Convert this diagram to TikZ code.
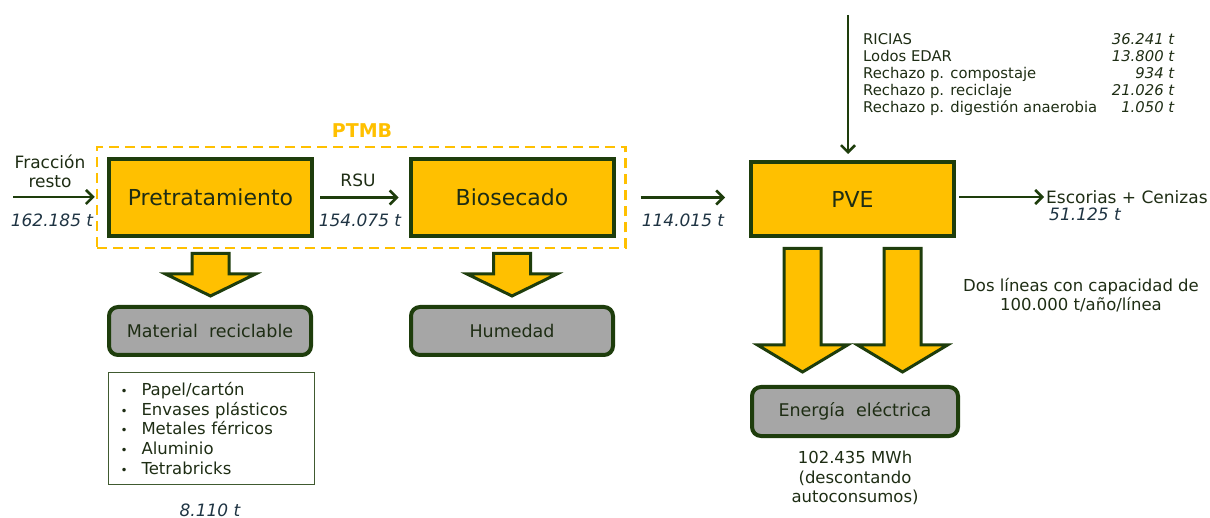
\documentclass[tikz,border=0pt]{standalone}
\usepackage{fontspec}
\setmainfont{DejaVu Sans}
\usetikzlibrary{positioning,arrows.meta,fit,calc}
\definecolor{procfill}{HTML}{FFC000}
\definecolor{edge}{HTML}{1E3D0C}
\definecolor{outfill}{HTML}{A6A6A6}
\definecolor{txt}{HTML}{1E2D14}
\definecolor{numtxt}{HTML}{1F3443}

\begin{document}
\begin{tikzpicture}[x=1pt,y=-1pt,
        procbox/.style={rectangle, draw=edge, fill=procfill, line width=4pt,
          minimum width=203pt, minimum height=77pt, inner sep=0pt,
        font=\fontsize{22}{26}\selectfont, text=txt},
        outbox/.style={rectangle, rounded corners=9pt, draw=edge,
          fill=outfill, line width=4pt, minimum width=202pt,
        minimum height=48pt, inner sep=0pt, font=\fontsize{17.5}{21}\selectfont, text=txt},
        ptmbbox/.style={rectangle, draw=procfill, line width=2.5pt,
        dash pattern=on 10pt off 6pt, inner sep=10pt},
        lbl/.style={font=\fontsize{17}{19}\selectfont, text=txt, align=center, inner sep=1pt},
        small/.style={font=\fontsize{16.5}{19.5}\selectfont, text=txt, align=center, inner sep=1pt},
        qty/.style={font=\fontsize{17}{19}\selectfont\itshape, text=numtxt, inner sep=1pt},
        flow/.style={-{Straight Barb[length=7pt,width=14pt]}, line width=2.5pt, draw=edge},
        bigarr/.style={draw=edge, fill=procfill, line width=3pt, line join=miter},
      ]
      \useasboundingbox (0,0) rectangle (1210,518);

      % =================== PTMB ===================
      \node[procbox] (pre) at (210.5,197.5) {Pretratamiento};
      \node[procbox] (bio) at (512,197.5) {Biosecado};
      \node[ptmbbox, fit=(pre)(bio)] (ptmb) {};
      \node[font=\fontsize{19}{22}\selectfont\bfseries, text=procfill] (ptmblbl) at (362,131) {PTMB};

      % entrada fraccion resto
      \coordinate (inA) at (13,197);
      \draw[flow, shorten >=1pt] (inA) -- (inA -| ptmb.west);
      \node[lbl] (frac) at (50,171) {Fracción\\resto};
      \node[qty] (qfrac) at (52,220) {162.185 t};

      % RSU
      \draw[flow, shorten <=6pt, shorten >=10pt] (pre.east) -- (bio.west);
      \node[lbl] (rsu) at (358,180) {RSU};
      \node[qty] (qrsu) at (360,220) {154.075 t};

      % salidas PTMB
      \filldraw[bigarr, shift={(pre.south)}] (-18.5,15.5) -- (18.5,15.5) -- (18.5,36)
      -- (45,36) -- (0,58) -- (-45,36) -- (-18.5,36) -- cycle;
      \filldraw[bigarr, shift={(bio.south)}] (-18.5,15.5) -- (18.5,15.5) -- (18.5,36)
      -- (45,36) -- (0,58) -- (-45,36) -- (-18.5,36) -- cycle;

      \node[outbox] (mat) at (210,331) {Material\ \ reciclable};
      \node[outbox] (hum) at (512,331) {Humedad};

      \node[draw=edge!85, line width=1.2pt, minimum height=112pt, text width=182pt,
        inner xsep=12pt, align=left, font=\fontsize{16.5}{19.7}\selectfont, text=txt]
      (matlist) at (211.5,428.5) {%
        \makebox[21pt][l]{\fontsize{12}{12}\selectfont•}Papel/cartón\\
        \makebox[21pt][l]{\fontsize{12}{12}\selectfont•}Envases plásticos\\
        \makebox[21pt][l]{\fontsize{12}{12}\selectfont•}Metales férricos\\
        \makebox[21pt][l]{\fontsize{12}{12}\selectfont•}Aluminio\\
      \makebox[21pt][l]{\fontsize{12}{12}\selectfont•}Tetrabricks};
      \node[qty] (qmat) at (210,510) {8.110 t};

      % =================== PVE ===================
      \node[procbox, minimum height=74pt] (pve) at (852.5,199) {PVE};

      \draw[flow, shorten <=25pt, shorten >=24pt] (bio.east) -- (bio.east -| pve.west);
      \node[qty] (qbio) at (683,220) {114.015 t};

      % otras entradas
      \coordinate (inB) at (848,15);
      \draw[flow, shorten >=6pt] (inB) -- (inB |- pve.north);
      \node[anchor=north west, inner sep=0pt, font=\fontsize{14.8}{17}\selectfont, text=txt]
      (inputs) at (863,32) {%
        \begin{tabular*}{311pt}{@{}l@{\extracolsep{\fill}}r@{}}
          RICIAS & \itshape 36.241 t\\
          Lodos EDAR & \itshape 13.800 t\\
          Rechazo p. compostaje & \itshape 934 t\\
          Rechazo p. reciclaje & \itshape 21.026 t\\
          Rechazo p. digestión anaerobia & \itshape 1.050 t
      \end{tabular*}};

      % escorias
      \node[lbl, anchor=west] (esc) at (1045,197) {Escorias + Cenizas};
      \node[qty] (qesc) at (1085,214) {51.125 t};
      \draw[flow, shorten <=3pt, shorten >=1pt] (pve.east |- esc.west) -- (esc.west);

      \node[small] (lines) at (1081,295) {Dos líneas con capacidad de\\100.000 t/año/línea};

      % energia
      \filldraw[bigarr, shift={($(pve.south)+(-50,0)$)}] (-18.5,10.5) -- (18.5,10.5)
      -- (18.5,107) -- (45,107) -- (0,134) -- (-45,107) -- (-18.5,107) -- cycle;
      \filldraw[bigarr, shift={($(pve.south)+(50,0)$)}] (-18.5,10.5) -- (18.5,10.5)
      -- (18.5,107) -- (45,107) -- (0,134) -- (-45,107) -- (-18.5,107) -- cycle;

      \node[outbox, minimum width=206pt, minimum height=49pt] (ene) at (855,411.5) {Energía\ \ eléctrica};
      \node[small] (qene) at (855,478) {102.435 MWh\\(descontando\\autoconsumos)};

    \end{tikzpicture}
\end{document}
